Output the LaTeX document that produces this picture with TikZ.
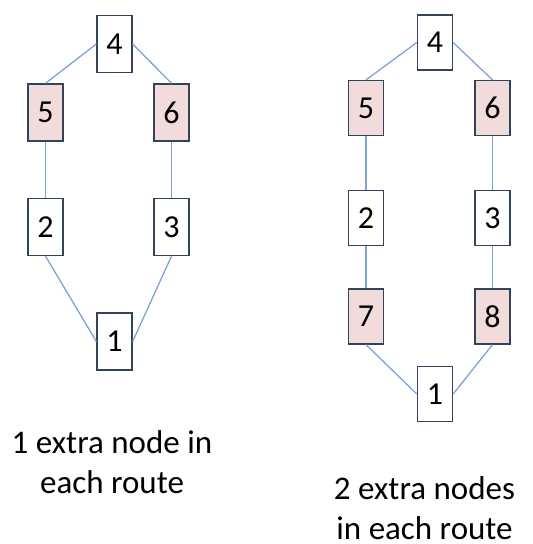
\documentclass[tikz,border=0pt]{standalone}
\usepackage{fontspec}
\setmainfont{Carlito}
\definecolor{boxline}{HTML}{34435A}
\definecolor{pinkfill}{HTML}{F2DCDB}
\definecolor{edgeblue}{HTML}{7FA3D6}
\tikzset{
  vbox/.style={draw=boxline, line width=1.3pt, fill=white, minimum width=35pt, minimum height=57pt, inner sep=0pt, font=\fontsize{32}{38}\selectfont},
  pbox/.style={vbox, fill=pinkfill},
  link/.style={draw=edgeblue, line width=1.3pt},
  caption/.style={align=center, font=\fontsize{33}{40}\selectfont, inner sep=0pt}
}
\begin{document}
\begin{tikzpicture}[x=1pt,y=-1pt]
\useasboundingbox (0,0) rectangle (533,544);
% left diagram
\node[vbox] (L4) at (114.5,44) {4};
\node[pbox] (L5) at (45.5,112.5) {5};
\node[pbox] (L6) at (171.5,112.5) {6};
\node[vbox] (L2) at (45.5,227) {2};
\node[vbox] (L3) at (171.5,227) {3};
\node[vbox] (L1) at (114.5,341.5) {1};
\draw[link] (L4.west) -- (L5.north);
\draw[link] (L4.east) -- (L6.north);
\draw[link] (L5.south) -- (L2.north);
\draw[link] (L6.south) -- (L3.north);
\draw[link] (L2.south) -- (L1.west);
\draw[link] (L3.south) -- (L1.east);
\node[caption] (Lcap) at (112,462) {1 extra node in\\each route};
% right diagram
\node[vbox, minimum height=55pt] (R4) at (435,42.5) {4};
\node[pbox, minimum height=55pt] (R5) at (366,108) {5};
\node[pbox, minimum height=55pt] (R6) at (492.5,108) {6};
\node[vbox, minimum height=55pt] (R2) at (366,218) {2};
\node[vbox, minimum height=55pt] (R3) at (492.5,218) {3};
\node[pbox, minimum height=55pt] (R7) at (366,316.5) {7};
\node[pbox, minimum height=55pt] (R8) at (492.5,316.5) {8};
\node[vbox, minimum height=55pt] (R1) at (435,394) {1};
\draw[link] (R4.west) -- (R5.north);
\draw[link] (R4.east) -- (R6.north);
\draw[link] (R5.south) -- (R2.north);
\draw[link] (R6.south) -- (R3.north);
\draw[link] (R2.south) -- (R7.north);
\draw[link] (R3.south) -- (R8.north);
\draw[link] (R7.south) -- (R1.west);
\draw[link] (R8.south) -- (R1.east);
\node[caption] (Rcap) at (424.5,508) {2 extra nodes\\in each route};
\end{tikzpicture}
\end{document}
